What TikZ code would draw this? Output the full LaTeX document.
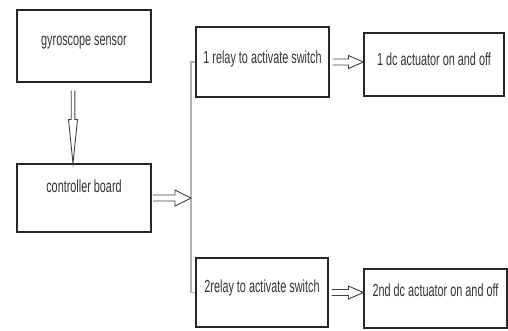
\documentclass[tikz,border=0pt]{standalone}
\usepackage{fontspec}
\setmainfont{Liberation Sans}[FakeStretch=0.62]
\usetikzlibrary{calc}

% hollow block arrow: start, end, shaft half width, head half width, head length
\newcommand{\hollowarrow}[5]{%
    \draw[arrowline] let \p1=(#1), \p2=(#2),
            \n1={atan2(\y2-\y1,\x2-\x1)}, \n2={veclen(\x2-\x1,\y2-\y1)} in
        [shift={(\p1)},rotate=\n1]
        (0,#3) -- (\n2-#5,#3) -- (\n2-#5,#4) -- (\n2,0)
        -- (\n2-#5,-#4) -- (\n2-#5,-#3) -- (0,-#3);
}

\begin{document}
\begin{tikzpicture}[x=1pt,y=-1pt,
    box/.style={draw=black!85,line width=1.1pt,text=black!80,
        font=\fontsize{17.5}{20}\selectfont,inner sep=0pt},
    arrowline/.style={draw=black!75,line width=0.9pt,line join=miter},
    bus/.style={draw=black!30,line width=1.5pt}]
    \useasboundingbox (0,0) rectangle (508,330);
    % left column
    \node[box,minimum width=134pt,minimum height=72pt,text depth=10pt] (gyro) at (84,46) {gyroscope sensor};
    \node[box,minimum width=134pt,minimum height=68pt,text depth=24pt] (ctrl) at (84,198) {controller board};
    % relays
    \node[box,minimum width=133pt,minimum height=70pt,text depth=9pt] (relay1) at (262.5,62) {1 relay to activate switch};
    \node[box,minimum width=132pt,minimum height=69pt,text depth=13pt] (relay2) at (262,292.5) {2relay to activate switch};
    % actuators
    \node[box,minimum width=140pt,minimum height=63pt,text depth=10pt] (act1) at (434,64.5) {1 dc actuator on and off};
    \node[box,minimum width=143pt,minimum height=59pt,text depth=17pt] (act2) at (435.5,298.5) {2nd dc actuator on and off};
    % wiring
    \coordinate (busT) at (191,62);
    \coordinate (busB) at (191,292.5);
    \draw[bus] (relay1.west) -- (busT) -- (busB) -- (relay2.west);
    \coordinate (gyroout) at ([xshift=-11pt,yshift=-8pt]gyro.south);
    \coordinate (ctrlin) at ([xshift=-11pt]ctrl.north);
    \hollowarrow{gyroout}{ctrlin}{1.8}{4.5}{44}
    \coordinate (ctrlout) at ([xshift=1.5pt]ctrl.east);
    \hollowarrow{ctrlout}{ctrl.east -| busT}{3}{8}{16}
    \coordinate (relayout1) at ([xshift=3pt]relay1.east);
    \hollowarrow{relayout1}{relay1.east -| act1.west}{3}{6.5}{15}
    \coordinate (relayout2) at ([xshift=3pt]relay2.east);
    \hollowarrow{relayout2}{relay2.east -| act2.west}{3}{6.5}{15}
\end{tikzpicture}
\end{document}
